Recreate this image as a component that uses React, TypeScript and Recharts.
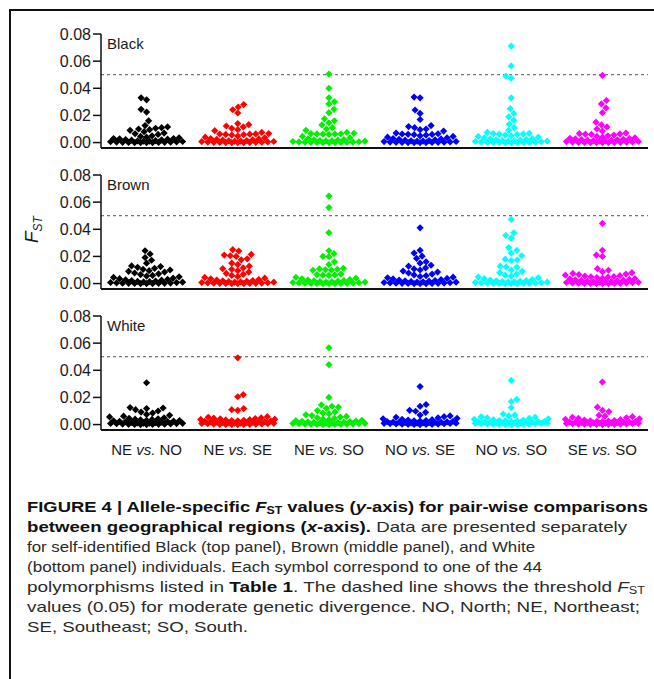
import React from 'react';
import { ScatterChart, Scatter, XAxis, YAxis, ReferenceLine } from 'recharts';

// x-axis categories: pair-wise comparisons between regions
const pairLeft = ['NE', 'NE', 'NE', 'NO', 'NO', 'SE'];
const pairRight = ['NO', 'SE', 'SO', 'SE', 'SO', 'SO'];
const pairColors = ['#000000', '#ff0000', '#00f000', '#0000ff', '#00ffff', '#ff00ff'];
const panelNames = ['Black', 'Brown', 'White'];
const yTicks = [0, 0.02, 0.04, 0.06, 0.08];
const threshold = 0.05;

// Black (top panel), 44 polymorphisms per comparison
const blackNEvsNO = [0.0330, 0.0315, 0.0245, 0.0225, 0.0160, 0.0125, 0.0115, 0.0110, 0.0105, 0.0100, 0.0095, 0.0090, 0.0080, 0.0070, 0.0065, 0.0060, 0.0050, 0.0045, 0.0040, 0.0035, 0.0030, 0.0030, 0.0028, 0.0025, 0.0022, 0.0020, 0.0018, 0.0015, 0.0012, 0.0010, 0.0010, 0.0008, 0.0006, 0.0005, 0.0004, 0.0003, 0.0002, 0.0002, 0.0001, 0.0001, 0.0000, 0.0000, 0.0000, 0.0000];
const blackNEvsSE = [0.0280, 0.0262, 0.0242, 0.0218, 0.0140, 0.0132, 0.0122, 0.0115, 0.0105, 0.0095, 0.0088, 0.0075, 0.0066, 0.0064, 0.0063, 0.0062, 0.0060, 0.0058, 0.0055, 0.0048, 0.0040, 0.0035, 0.0030, 0.0027, 0.0024, 0.0020, 0.0018, 0.0015, 0.0013, 0.0011, 0.0010, 0.0008, 0.0007, 0.0005, 0.0004, 0.0003, 0.0002, 0.0002, 0.0001, 0.0001, 0.0000, 0.0000, 0.0000, 0.0000];
const blackNEvsSO = [0.0505, 0.0400, 0.0330, 0.0300, 0.0285, 0.0245, 0.0220, 0.0175, 0.0160, 0.0145, 0.0130, 0.0110, 0.0100, 0.0090, 0.0075, 0.0068, 0.0066, 0.0065, 0.0064, 0.0063, 0.0062, 0.0060, 0.0045, 0.0035, 0.0028, 0.0022, 0.0020, 0.0018, 0.0015, 0.0013, 0.0012, 0.0010, 0.0008, 0.0006, 0.0005, 0.0004, 0.0003, 0.0002, 0.0002, 0.0001, 0.0001, 0.0000, 0.0000, 0.0000];
const blackNOvsSE = [0.0335, 0.0330, 0.0240, 0.0215, 0.0170, 0.0125, 0.0118, 0.0110, 0.0100, 0.0095, 0.0085, 0.0070, 0.0065, 0.0063, 0.0061, 0.0060, 0.0058, 0.0055, 0.0050, 0.0045, 0.0040, 0.0035, 0.0030, 0.0027, 0.0024, 0.0020, 0.0018, 0.0015, 0.0013, 0.0011, 0.0010, 0.0008, 0.0007, 0.0005, 0.0004, 0.0003, 0.0002, 0.0002, 0.0001, 0.0001, 0.0000, 0.0000, 0.0000, 0.0000];
const blackNOvsSO = [0.0710, 0.0565, 0.0490, 0.0475, 0.0330, 0.0250, 0.0215, 0.0190, 0.0165, 0.0135, 0.0110, 0.0090, 0.0075, 0.0068, 0.0066, 0.0064, 0.0062, 0.0060, 0.0055, 0.0050, 0.0045, 0.0040, 0.0035, 0.0030, 0.0026, 0.0022, 0.0020, 0.0018, 0.0015, 0.0013, 0.0011, 0.0010, 0.0008, 0.0006, 0.0005, 0.0004, 0.0003, 0.0002, 0.0002, 0.0001, 0.0001, 0.0000, 0.0000, 0.0000];
const blackSEvsSO = [0.0495, 0.0310, 0.0285, 0.0255, 0.0220, 0.0150, 0.0130, 0.0115, 0.0100, 0.0085, 0.0070, 0.0066, 0.0064, 0.0062, 0.0060, 0.0055, 0.0050, 0.0045, 0.0040, 0.0035, 0.0032, 0.0030, 0.0027, 0.0024, 0.0022, 0.0020, 0.0018, 0.0016, 0.0014, 0.0012, 0.0010, 0.0008, 0.0007, 0.0005, 0.0004, 0.0003, 0.0002, 0.0002, 0.0001, 0.0001, 0.0000, 0.0000, 0.0000, 0.0000];

// Brown (middle panel)
const brownNEvsNO = [0.0242, 0.0218, 0.0192, 0.0172, 0.0150, 0.0130, 0.0125, 0.0120, 0.0112, 0.0105, 0.0100, 0.0095, 0.0090, 0.0085, 0.0078, 0.0072, 0.0066, 0.0060, 0.0055, 0.0050, 0.0045, 0.0040, 0.0036, 0.0032, 0.0028, 0.0025, 0.0022, 0.0019, 0.0016, 0.0014, 0.0012, 0.0010, 0.0008, 0.0007, 0.0005, 0.0004, 0.0003, 0.0002, 0.0002, 0.0001, 0.0001, 0.0000, 0.0000, 0.0000];
const brownNEvsSE = [0.0250, 0.0240, 0.0215, 0.0210, 0.0205, 0.0200, 0.0182, 0.0175, 0.0150, 0.0140, 0.0128, 0.0115, 0.0110, 0.0105, 0.0095, 0.0085, 0.0075, 0.0068, 0.0060, 0.0052, 0.0045, 0.0040, 0.0035, 0.0030, 0.0026, 0.0022, 0.0020, 0.0018, 0.0015, 0.0013, 0.0011, 0.0010, 0.0008, 0.0006, 0.0005, 0.0004, 0.0003, 0.0002, 0.0002, 0.0001, 0.0001, 0.0000, 0.0000, 0.0000];
const brownNEvsSO = [0.0645, 0.0560, 0.0375, 0.0242, 0.0220, 0.0200, 0.0198, 0.0160, 0.0140, 0.0112, 0.0108, 0.0105, 0.0102, 0.0100, 0.0098, 0.0070, 0.0066, 0.0064, 0.0062, 0.0060, 0.0045, 0.0040, 0.0035, 0.0030, 0.0026, 0.0022, 0.0020, 0.0018, 0.0015, 0.0013, 0.0011, 0.0010, 0.0008, 0.0006, 0.0005, 0.0004, 0.0003, 0.0002, 0.0002, 0.0001, 0.0001, 0.0000, 0.0000, 0.0000];
const brownNOvsSE = [0.0411, 0.0245, 0.0225, 0.0202, 0.0185, 0.0160, 0.0150, 0.0135, 0.0128, 0.0115, 0.0108, 0.0100, 0.0092, 0.0085, 0.0078, 0.0070, 0.0064, 0.0058, 0.0052, 0.0047, 0.0042, 0.0038, 0.0034, 0.0030, 0.0026, 0.0022, 0.0020, 0.0018, 0.0015, 0.0013, 0.0011, 0.0010, 0.0008, 0.0006, 0.0005, 0.0004, 0.0003, 0.0002, 0.0002, 0.0001, 0.0001, 0.0000, 0.0000, 0.0000];
const brownNOvsSO = [0.0473, 0.0374, 0.0355, 0.0335, 0.0265, 0.0245, 0.0225, 0.0205, 0.0180, 0.0175, 0.0170, 0.0128, 0.0123, 0.0120, 0.0100, 0.0090, 0.0080, 0.0070, 0.0062, 0.0055, 0.0048, 0.0042, 0.0036, 0.0030, 0.0026, 0.0022, 0.0020, 0.0018, 0.0015, 0.0013, 0.0011, 0.0010, 0.0008, 0.0006, 0.0005, 0.0004, 0.0003, 0.0002, 0.0002, 0.0001, 0.0001, 0.0000, 0.0000, 0.0000];
const brownSEvsSO = [0.0443, 0.0245, 0.0210, 0.0200, 0.0110, 0.0098, 0.0088, 0.0080, 0.0075, 0.0070, 0.0066, 0.0062, 0.0058, 0.0055, 0.0052, 0.0050, 0.0047, 0.0044, 0.0040, 0.0037, 0.0034, 0.0031, 0.0028, 0.0025, 0.0022, 0.0020, 0.0018, 0.0016, 0.0014, 0.0012, 0.0010, 0.0009, 0.0008, 0.0006, 0.0005, 0.0004, 0.0003, 0.0002, 0.0002, 0.0001, 0.0001, 0.0000, 0.0000, 0.0000];

// White (bottom panel)
const whiteNEvsNO = [0.0308, 0.0125, 0.0122, 0.0118, 0.0110, 0.0100, 0.0092, 0.0085, 0.0075, 0.0068, 0.0062, 0.0056, 0.0050, 0.0046, 0.0042, 0.0040, 0.0038, 0.0035, 0.0032, 0.0030, 0.0028, 0.0026, 0.0024, 0.0022, 0.0020, 0.0018, 0.0016, 0.0014, 0.0012, 0.0011, 0.0010, 0.0009, 0.0008, 0.0007, 0.0006, 0.0005, 0.0004, 0.0003, 0.0002, 0.0002, 0.0001, 0.0001, 0.0000, 0.0000];
const whiteNEvsSE = [0.0492, 0.0220, 0.0205, 0.0118, 0.0110, 0.0105, 0.0058, 0.0054, 0.0050, 0.0047, 0.0044, 0.0042, 0.0040, 0.0038, 0.0036, 0.0034, 0.0032, 0.0030, 0.0028, 0.0026, 0.0024, 0.0022, 0.0020, 0.0019, 0.0018, 0.0016, 0.0015, 0.0014, 0.0012, 0.0011, 0.0010, 0.0009, 0.0008, 0.0007, 0.0006, 0.0005, 0.0004, 0.0003, 0.0002, 0.0002, 0.0001, 0.0001, 0.0000, 0.0000];
const whiteNEvsSO = [0.0566, 0.0441, 0.0200, 0.0145, 0.0135, 0.0128, 0.0120, 0.0103, 0.0092, 0.0085, 0.0080, 0.0072, 0.0066, 0.0060, 0.0055, 0.0050, 0.0045, 0.0040, 0.0036, 0.0032, 0.0029, 0.0026, 0.0024, 0.0022, 0.0020, 0.0018, 0.0016, 0.0014, 0.0012, 0.0011, 0.0010, 0.0009, 0.0008, 0.0007, 0.0006, 0.0005, 0.0004, 0.0003, 0.0002, 0.0002, 0.0001, 0.0001, 0.0000, 0.0000];
const whiteNOvsSE = [0.0280, 0.0148, 0.0135, 0.0105, 0.0098, 0.0090, 0.0070, 0.0064, 0.0058, 0.0054, 0.0050, 0.0046, 0.0042, 0.0039, 0.0036, 0.0033, 0.0030, 0.0028, 0.0026, 0.0024, 0.0022, 0.0020, 0.0019, 0.0018, 0.0017, 0.0016, 0.0015, 0.0014, 0.0013, 0.0012, 0.0011, 0.0010, 0.0009, 0.0008, 0.0007, 0.0006, 0.0005, 0.0004, 0.0003, 0.0002, 0.0002, 0.0001, 0.0001, 0.0000];
const whiteNOvsSO = [0.0325, 0.0185, 0.0170, 0.0125, 0.0078, 0.0070, 0.0064, 0.0058, 0.0054, 0.0050, 0.0046, 0.0042, 0.0039, 0.0036, 0.0033, 0.0030, 0.0028, 0.0026, 0.0024, 0.0022, 0.0021, 0.0020, 0.0019, 0.0018, 0.0017, 0.0016, 0.0015, 0.0014, 0.0013, 0.0012, 0.0011, 0.0010, 0.0009, 0.0008, 0.0007, 0.0006, 0.0005, 0.0004, 0.0003, 0.0002, 0.0002, 0.0001, 0.0001, 0.0000];
const whiteSEvsSO = [0.0313, 0.0128, 0.0105, 0.0095, 0.0068, 0.0062, 0.0058, 0.0054, 0.0050, 0.0046, 0.0042, 0.0039, 0.0036, 0.0033, 0.0030, 0.0028, 0.0026, 0.0024, 0.0022, 0.0021, 0.0020, 0.0019, 0.0018, 0.0017, 0.0016, 0.0015, 0.0014, 0.0013, 0.0012, 0.0011, 0.0010, 0.0009, 0.0008, 0.0007, 0.0006, 0.0005, 0.0004, 0.0003, 0.0003, 0.0002, 0.0002, 0.0001, 0.0001, 0.0000];

const panelValues = [
  [blackNEvsNO, blackNEvsSE, blackNEvsSO, blackNOvsSE, blackNOvsSO, blackSEvsSO],
  [brownNEvsNO, brownNEvsSE, brownNEvsSO, brownNOvsSE, brownNOvsSO, brownSEvsSO],
  [whiteNEvsNO, whiteNEvsSE, whiteNEvsSO, whiteNOvsSE, whiteNOvsSO, whiteSEvsSO],
];

// layout
const CHART_W = 654;
const PLOT_LEFT = 101;
const PLOT_RIGHT = 648;
const PLOT_H = 114;
const Y_MIN = -0.004;
const Y_MAX = 0.08;
const PANEL_TOPS = [34, 175, 316];
const MARGIN_TOP = 10;
const Y_AXIS_W = 60;
const FONT = '"Liberation Sans", Arial, Helvetica, sans-serif';

const bandPx = (PLOT_RIGHT - PLOT_LEFT) / pairLeft.length;
const pxPerY = PLOT_H / (Y_MAX - Y_MIN);

// beeswarm layout: horizontal offset (in band units) for each value
function swarm(values: number[]): number[] {
  const placed: { x: number; y: number }[] = [];
  const offsets = new Array(values.length).fill(0);
  const order = values.map((_, i) => i).sort((a, b) => values[a] - values[b]);
  const maxHalf = 37;
  const step = 0.5;
  const minGap = 5.8;
  for (const i of order) {
    const y = values[i] * pxPerY;
    const signs = placed.length % 2 ? [-1, 1] : [1, -1];
    let chosen = 0;
    let bestGap = -1;
    let done = false;
    for (let k = 0; k * step <= maxHalf && !done; k++) {
      for (const s of k === 0 ? [1] : signs) {
        const x = s * k * step;
        let gap = Infinity;
        for (const p of placed) {
          const d = Math.hypot(p.x - x, p.y - y);
          if (d < gap) gap = d;
        }
        if (gap >= minGap) {
          chosen = x;
          done = true;
          break;
        }
        if (gap > bestGap) {
          bestGap = gap;
          chosen = x;
        }
      }
    }
    placed.push({ x: chosen, y });
    offsets[i] = chosen / bandPx;
  }
  return offsets;
}

const Diamond = (props: any) => {
  const { cx, cy, fill } = props;
  const r = 3.6;
  return <path d={`M${cx},${cy - r}L${cx + r},${cy}L${cx},${cy + r}L${cx - r},${cy}Z`} fill={fill} />;
};

const PairTick = (props: any) => {
  const { x, y, payload } = props;
  const g = Math.round(payload.value - 0.5);
  return (
    <text x={x} y={y + 17} textAnchor="middle" fontSize={15} fontFamily={FONT} fill="#1a1a1a">
      {pairLeft[g] + ' '}
      <tspan fontStyle="italic">vs.</tspan>
      {' ' + pairRight[g]}
    </text>
  );
};

function Panel({ index }: { index: number }) {
  const isLast = index === panelValues.length - 1;
  const xAxisH = isLast ? 40 : 1;
  const height = MARGIN_TOP + PLOT_H + xAxisH + 4;
  const series = panelValues[index].map((vals, g) => {
    const offs = swarm(vals);
    return vals.map((v, k) => ({ x: g + 0.5 + offs[k], y: v }));
  });
  return (
    <div style={{ position: 'absolute', left: 0, top: PANEL_TOPS[index] - MARGIN_TOP }}>
      <ScatterChart
        width={CHART_W}
        height={height}
        margin={{ top: MARGIN_TOP, right: CHART_W - PLOT_RIGHT, bottom: 4, left: PLOT_LEFT - Y_AXIS_W }}
      >
        <XAxis
          type="number"
          dataKey="x"
          domain={[0, pairLeft.length]}
          ticks={pairLeft.map((_, g) => g + 0.5)}
          interval={0}
          allowDataOverflow
          height={xAxisH}
          tickLine={false}
          axisLine={{ stroke: '#111', strokeWidth: 2 }}
          tick={isLast ? <PairTick /> : false}
        />
        <YAxis
          type="number"
          dataKey="y"
          width={Y_AXIS_W}
          domain={[Y_MIN, Y_MAX]}
          ticks={yTicks}
          allowDataOverflow
          tickSize={8}
          tickFormatter={(v: number) => v.toFixed(2)}
          tick={{ fontSize: 16, fontFamily: FONT, fill: '#1a1a1a' }}
          axisLine={{ stroke: '#111', strokeWidth: 1.5 }}
          tickLine={{ stroke: '#111', strokeWidth: 1.5 }}
        />
        <ReferenceLine y={threshold} stroke="#555" strokeDasharray="3 3" />
        {series.map((data, g) => (
          <Scatter key={g} data={data} fill={pairColors[g]} shape={<Diamond />} isAnimationActive={false} />
        ))}
      </ScatterChart>
    </div>
  );
}

const captionWidths = [621, 600, 508, 515, 618, 613, 221];

export default function App() {
  return (
    <div style={{ position: 'absolute', left: 0, top: 0, width: 654, height: 679, background: '#fff', overflow: 'hidden' }}>
      <div
        style={{
          position: 'absolute',
          left: 9,
          top: 9,
          right: -10,
          bottom: -10,
          borderLeft: '2px solid #111',
          borderTop: '2px solid #111',
        }}
      />
      {panelValues.map((_, i) => (
        <Panel key={i} index={i} />
      ))}
      <svg width={654} height={679} style={{ position: 'absolute', left: 0, top: 0, pointerEvents: 'none' }}>
        {panelNames.map((name, i) => (
          <text key={name} x={107} y={PANEL_TOPS[i] + 14.5} fontSize={15} fontFamily={FONT} fill="#1a1a1a">
            {name}
          </text>
        ))}
        <text transform="translate(38,243) rotate(-90)" fontFamily={FONT} fill="#1a1a1a" fontStyle="italic" fontSize={19}>
          F
          <tspan fontSize={12} dy={4}>ST</tspan>
        </text>
        <g fontFamily={FONT} fontSize={15}>
          <text x={27} y={512} textLength={captionWidths[0]} lengthAdjust="spacingAndGlyphs" fontWeight="bold" fill="#111">
            FIGURE 4 | Allele-specific <tspan fontStyle="italic">F</tspan>
            <tspan fontSize={10} dy={2}>ST</tspan>
            <tspan dy={-2}> values (</tspan>
            <tspan fontStyle="italic">y</tspan>-axis) for pair-wise comparisons
          </text>
          <text x={27} y={532} textLength={captionWidths[1]} lengthAdjust="spacingAndGlyphs" fill="#2a2a2a">
            <tspan fontWeight="bold" fill="#111">between geographical regions (</tspan>
            <tspan fontWeight="bold" fontStyle="italic" fill="#111">x</tspan>
            <tspan fontWeight="bold" fill="#111">-axis).</tspan> Data are presented separately
          </text>
          <text x={27} y={552} textLength={captionWidths[2]} lengthAdjust="spacingAndGlyphs" fill="#2a2a2a">
            for self-identified Black (top panel), Brown (middle panel), and White
          </text>
          <text x={27} y={572} textLength={captionWidths[3]} lengthAdjust="spacingAndGlyphs" fill="#2a2a2a">
            (bottom panel) individuals. Each symbol correspond to one of the 44
          </text>
          <text x={27} y={592} textLength={captionWidths[4]} lengthAdjust="spacingAndGlyphs" fill="#2a2a2a">
            polymorphisms listed in <tspan fontWeight="bold" fill="#111">Table 1</tspan>. The dashed line shows the threshold{' '}
            <tspan fontStyle="italic">F</tspan>
            <tspan fontSize={10} dy={2}>ST</tspan>
          </text>
          <text x={27} y={612} textLength={captionWidths[5]} lengthAdjust="spacingAndGlyphs" fill="#2a2a2a">
            values (0.05) for moderate genetic divergence. NO, North; NE, Northeast;
          </text>
          <text x={27} y={632} textLength={captionWidths[6]} lengthAdjust="spacingAndGlyphs" fill="#2a2a2a">
            SE, Southeast; SO, South.
          </text>
        </g>
      </svg>
    </div>
  );
}
